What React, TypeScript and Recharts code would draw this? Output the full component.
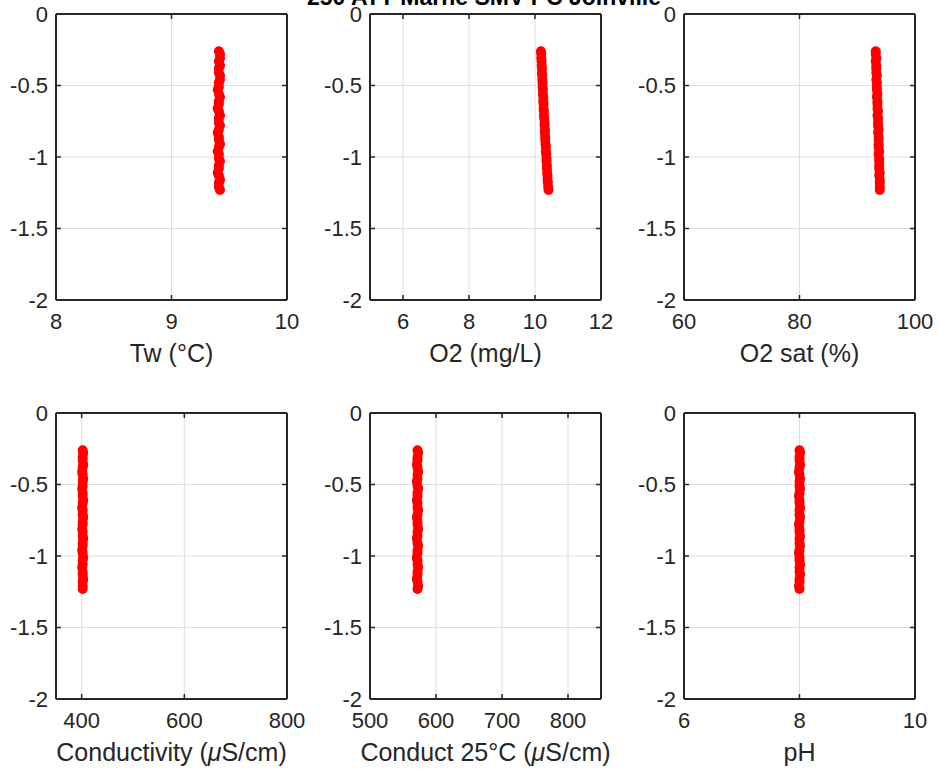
import React from "react";
import { ScatterChart, Scatter, XAxis, YAxis, CartesianGrid } from "recharts";

const TITLE = "250 ATT Marne SMV PC Joinville";

const depth = [-0.26, -0.28, -0.31, -0.33, -0.36, -0.38, -0.41, -0.43, -0.46, -0.48, -0.51, -0.53, -0.56, -0.58, -0.61, -0.63, -0.66, -0.68, -0.71, -0.73, -0.76, -0.78, -0.81, -0.83, -0.86, -0.88, -0.91, -0.93, -0.96, -0.98, -1.01, -1.03, -1.06, -1.08, -1.11, -1.13, -1.16, -1.18, -1.21, -1.23];

const tw = [9.41, 9.42, 9.42, 9.41, 9.42, 9.41, 9.41, 9.42, 9.42, 9.41, 9.41, 9.40, 9.41, 9.42, 9.41, 9.41, 9.40, 9.41, 9.42, 9.41, 9.41, 9.42, 9.41, 9.40, 9.41, 9.41, 9.42, 9.41, 9.40, 9.41, 9.41, 9.42, 9.41, 9.41, 9.40, 9.41, 9.42, 9.41, 9.41, 9.42];

const o2 = [10.18, 10.19, 10.19, 10.20, 10.20, 10.21, 10.21, 10.22, 10.22, 10.23, 10.23, 10.24, 10.24, 10.25, 10.25, 10.26, 10.26, 10.27, 10.27, 10.28, 10.29, 10.29, 10.30, 10.30, 10.31, 10.31, 10.32, 10.33, 10.33, 10.34, 10.35, 10.35, 10.36, 10.36, 10.37, 10.38, 10.38, 10.39, 10.40, 10.41];

const o2sat = [93.2, 93.2, 93.3, 93.2, 93.3, 93.3, 93.3, 93.4, 93.3, 93.4, 93.4, 93.4, 93.5, 93.4, 93.5, 93.5, 93.5, 93.6, 93.5, 93.6, 93.6, 93.6, 93.7, 93.6, 93.7, 93.7, 93.7, 93.7, 93.8, 93.7, 93.8, 93.8, 93.8, 93.8, 93.9, 93.8, 93.9, 93.9, 93.9, 93.9];

const cond = [402, 403, 402, 402, 403, 402, 401, 402, 403, 402, 402, 401, 402, 402, 403, 402, 401, 402, 402, 403, 402, 402, 401, 402, 402, 403, 402, 402, 401, 402, 403, 402, 402, 401, 402, 402, 403, 402, 402, 402];

const cond25 = [572, 573, 572, 572, 571, 572, 573, 572, 572, 571, 572, 573, 572, 572, 571, 572, 572, 573, 572, 571, 572, 572, 573, 572, 572, 571, 572, 573, 572, 572, 571, 572, 572, 573, 572, 572, 571, 572, 573, 572];

const ph = [8.00, 8.01, 8.00, 8.00, 8.01, 8.00, 7.99, 8.00, 8.01, 8.00, 8.00, 8.01, 8.00, 7.99, 8.00, 8.00, 8.01, 8.00, 8.00, 8.01, 8.00, 7.99, 8.00, 8.00, 8.01, 8.00, 8.00, 8.01, 8.00, 7.99, 8.00, 8.00, 8.01, 8.00, 8.00, 8.01, 8.00, 8.00, 7.99, 8.00];

const yTicks = [0, -0.5, -1, -1.5, -2];

const twTicks = [8, 9, 10];
const o2Ticks = [6, 8, 10, 12];
const o2satTicks = [60, 80, 100];
const condTicks = [400, 600, 800];
const cond25Ticks = [500, 600, 700, 800];
const phTicks = [6, 8, 10];

const FONT = "'Liberation Sans', Arial, Helvetica, sans-serif";
const INK = "#262626";
const TICK_FS = 22;
const LABEL_FS = 25;
const TL = 5;

type LabelPart = { t: string; italic?: boolean };

const panels: {
  values: number[];
  domain: [number, number];
  ticks: number[];
  label: LabelPart[];
  left: number;
  top: number;
}[] = [
  { values: tw, domain: [8, 10], ticks: twTicks, label: [{ t: "Tw (°C)" }], left: 0, top: 0 },
  { values: o2, domain: [5, 12], ticks: o2Ticks, label: [{ t: "O2 (mg/L)" }], left: 314, top: 0 },
  { values: o2sat, domain: [60, 100], ticks: o2satTicks, label: [{ t: "O2 sat (%)" }], left: 628, top: 0 },
  {
    values: cond,
    domain: [350, 800],
    ticks: condTicks,
    label: [{ t: "Conductivity (" }, { t: "μ", italic: true }, { t: "S/cm)" }],
    left: 0,
    top: 399,
  },
  {
    values: cond25,
    domain: [500, 850],
    ticks: cond25Ticks,
    label: [{ t: "Conduct 25°C (" }, { t: "μ", italic: true }, { t: "S/cm)" }],
    left: 314,
    top: 399,
  },
  { values: ph, domain: [6, 10], ticks: phTicks, label: [{ t: "pH" }], left: 628, top: 399 },
];

const XLabel = (props: any) => {
  const vb = props.viewBox || { x: 56, y: 300, width: 231 };
  const parts: LabelPart[] = props.parts || [];
  return (
    <text
      x={vb.x + vb.width / 2}
      y={vb.y + 62}
      textAnchor="middle"
      fontSize={LABEL_FS}
      fontFamily={FONT}
      fill={INK}
    >
      {parts.map((p, i) => (
        <tspan key={i} fontStyle={p.italic ? "italic" : "normal"}>
          {p.t}
        </tspan>
      ))}
    </text>
  );
};

const BottomTick = (props: any) => {
  const { x, y, payload } = props;
  return (
    <g>
      <line x1={x} x2={x} y1={y} y2={y - TL} stroke={INK} strokeWidth={1.5} />
      <text x={x} y={y + 29} textAnchor="middle" fontSize={TICK_FS} fontFamily={FONT} fill={INK}>
        {String(payload.value)}
      </text>
    </g>
  );
};

const LeftTick = (props: any) => {
  const { x, y, payload } = props;
  return (
    <g>
      <line x1={x} x2={x + TL} y1={y} y2={y} stroke={INK} strokeWidth={1.5} />
      <text x={x - 8} y={y + 7.5} textAnchor="end" fontSize={TICK_FS} fontFamily={FONT} fill={INK}>
        {String(payload.value)}
      </text>
    </g>
  );
};

const TopTick = (props: any) => {
  const { x, y } = props;
  return <line x1={x} x2={x} y1={y} y2={y + TL} stroke={INK} strokeWidth={1.5} />;
};

const RightTick = (props: any) => {
  const { x, y } = props;
  return <line x1={x - TL} x2={x} y1={y} y2={y} stroke={INK} strokeWidth={1.5} />;
};

const Dot = (props: any) => {
  const { cx, cy } = props;
  if (cx == null || cy == null) return null;
  return <circle cx={cx} cy={cy} r={5} fill="#ff0000" />;
};

const CW = 312;
const CH = 370;
const AXIS_LINE = { stroke: INK, strokeWidth: 2 };

function Panel({ p }: { p: (typeof panels)[number] }) {
  const data = p.values.map((v, i) => ({ x: v, y: depth[i] }));
  return (
    <div style={{ position: "absolute", left: p.left, top: p.top, width: CW, height: CH }}>
      <ScatterChart
        width={CW}
        height={CH}
        margin={{ top: 13, right: 24, bottom: 0, left: 0 }}
        style={{ overflow: "visible" }}
      >
        <CartesianGrid stroke="#dedede" strokeWidth={1} />
        <XAxis
          type="number"
          dataKey="x"
          domain={p.domain}
          ticks={p.ticks}
          allowDataOverflow
          orientation="bottom"
          height={70}
          tickSize={0}
          tickMargin={0}
          tickLine={false}
          tick={<BottomTick />}
          axisLine={AXIS_LINE}
          interval={0}
          label={<XLabel parts={p.label} />}
        />
        <XAxis
          xAxisId="top"
          type="number"
          dataKey="x"
          domain={p.domain}
          ticks={p.ticks}
          allowDataOverflow
          orientation="top"
          height={1}
          tickSize={0}
          tickMargin={0}
          tickLine={false}
          tick={<TopTick />}
          interval={0}
          axisLine={AXIS_LINE}
        />
        <YAxis
          type="number"
          dataKey="y"
          domain={[-2, 0]}
          ticks={yTicks}
          allowDataOverflow
          orientation="left"
          width={56}
          tickSize={0}
          tickMargin={0}
          tickLine={false}
          tick={<LeftTick />}
          interval={0}
          axisLine={AXIS_LINE}
        />
        <YAxis
          yAxisId="right"
          type="number"
          dataKey="y"
          domain={[-2, 0]}
          ticks={yTicks}
          allowDataOverflow
          orientation="right"
          width={1}
          tickSize={0}
          tickMargin={0}
          tickLine={false}
          tick={<RightTick />}
          interval={0}
          axisLine={AXIS_LINE}
        />
        <Scatter data={data} shape={<Dot />} isAnimationActive={false} />
      </ScatterChart>
    </div>
  );
}

export default function App() {
  return (
    <div
      style={{
        position: "absolute",
        left: 0,
        top: 0,
        width: 941,
        height: 771,
        background: "#ffffff",
        overflow: "hidden",
      }}
    >
      {panels.map((p, i) => (
        <Panel key={i} p={p} />
      ))}
      <svg
        width={941}
        height={20}
        style={{ position: "absolute", left: 0, top: 0, pointerEvents: "none" }}
      >
        <text
          x={484}
          y={5}
          textAnchor="middle"
          fontSize={23}
          fontWeight="bold"
          fontFamily={FONT}
          fill="#000000"
        >
          {TITLE}
        </text>
      </svg>
    </div>
  );
}
